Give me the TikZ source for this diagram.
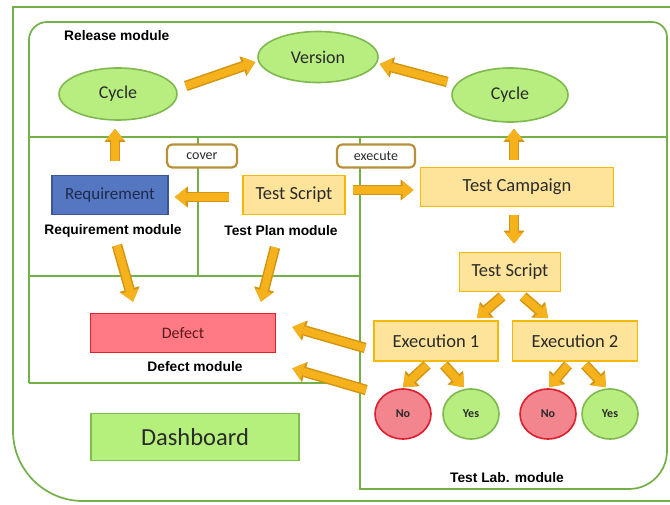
\documentclass[tikz,border=0pt]{standalone}
\usepackage{fontspec}
\setmainfont{Carlito}
\newfontfamily\labelfont{Liberation Sans}
\usetikzlibrary{shapes.geometric,arrows.meta,calc}

\definecolor{frameGreen}{HTML}{74B04A}
\definecolor{ellFill}{HTML}{B8EE80}
\definecolor{ellEdge}{HTML}{80B850}
\definecolor{noFill}{HTML}{F2858D}
\definecolor{noEdge}{HTML}{DC1E2E}
\definecolor{defFill}{HTML}{FF7A84}
\definecolor{defEdge}{HTML}{E0202A}
\definecolor{reqFill}{HTML}{5577C2}
\definecolor{reqEdge}{HTML}{3A5694}
\definecolor{reqText}{HTML}{1E2B4A}
\definecolor{boxFill}{HTML}{FEE49A}
\definecolor{boxEdge}{HTML}{F4B80A}
\definecolor{tagEdge}{HTML}{B89038}
\definecolor{arrFill}{HTML}{F6B21C}
\definecolor{arrEdge}{HTML}{D39410}
\definecolor{dashFill}{HTML}{B6F07C}
\definecolor{dashEdge}{HTML}{7EBE4E}
\definecolor{ink}{HTML}{2A2A2A}
\definecolor{defText}{HTML}{5A1A1E}

\begin{document}
\begin{tikzpicture}[x=1pt,y=-1pt,
  frame/.style={draw=frameGreen, line width=1.7pt},
  ell/.style={ellipse, draw=ellEdge, line width=1.6pt, fill=ellFill, inner sep=0pt,
    text=ink, font=\fontsize{18}{21}\selectfont},
  answer/.style={ellipse, line width=1.6pt, inner sep=0pt, minimum width=56pt,
    minimum height=50pt, text=ink, font=\bfseries\fontsize{12}{14}\selectfont},
  obox/.style={rectangle, draw=boxEdge, line width=1.8pt, fill=boxFill, inner sep=0pt,
    minimum height=39pt, text=ink, font=\fontsize{18.5}{21}\selectfont},
  tag/.style={rectangle, rounded corners=5pt, draw=tagEdge, line width=2.2pt, fill=white,
    inner sep=0pt, minimum height=23pt, text=ink, font=\fontsize{14}{16}\selectfont},
  modlabel/.style={inner sep=0pt, text=black, font=\labelfont\bfseries\fontsize{13.8}{16}\selectfont},
  fat/.style={
    preaction={draw=arrEdge, line width=10.5pt, -{Triangle[width=21pt,length=13pt,line width=0pt]}},
    draw=arrFill, line width=7.5pt, -{Triangle[width=18pt,length=11pt,line width=0pt]}}
]
\useasboundingbox (0,0) rectangle (670,505);

% outer frame with the large rounded corner at the bottom left
\draw[frame] (672,7) -- (13,7) -- (13,300) [rounded corners=70pt] -- (13,501) -- (672,501);

% module partitions
\draw[frame] (29,383) [rounded corners=18pt] -- (29,22) -- (400,22)
  [rounded corners=15pt] -- (667,22) -- (667,300)
  [rounded corners=38pt] -- (667,489) -- (500,489)
  [sharp corners] -- (360,489) -- (360,137);
\draw[frame] (29,137) -- (667,137);
\draw[frame] (29,276) -- (360,276);
\draw[frame] (29,383) -- (360,383);
\draw[frame] (198,137) -- (198,276);

% release module
\node[modlabel, anchor=west] (lblRel) at (64,36) {Release module};
\node[ell, minimum width=120pt, minimum height=51pt] (ver) at (318,57) {Version};
\node[ell, minimum width=118pt, minimum height=52pt] (cycL) at (118,94) {Cycle};
\node[ell, minimum width=116pt, minimum height=54pt] (cycR) at (510,95) {Cycle};

% requirement and test plan modules
\node[rectangle, draw=reqEdge, line width=1.6pt, fill=reqFill, inner sep=0pt,
  minimum width=116pt, minimum height=39pt, text=reqText,
  font=\fontsize{17}{20}\selectfont] (req) at (110,195) {Requirement};
\node[modlabel] (lblReq) at (113,231) {Requirement module};
\node[obox, minimum width=102pt] (tsP) at (294,195) {Test Script};
\node[modlabel] (lblPlan) at (281,231) {Test Plan module};
\node[tag, minimum width=70pt] (cover) at (202,156) {cover};
\node[tag, minimum width=78pt] (exec) at (376,156) {execute};

% test lab module
\node[obox, minimum width=193pt] (camp) at (517,187) {Test Campaign};
\node[obox, minimum width=101pt] (tsL) at (510,272) {Test Script};
\node[obox, minimum width=124pt, minimum height=40pt] (exe1) at (436,341) {Execution 1};
\node[obox, minimum width=125pt, minimum height=40pt] (exe2) at (575,341) {Execution 2};
\node[answer, draw=noEdge, fill=noFill] (no1) at (403,414) {No};
\node[answer, draw=ellEdge, fill=ellFill] (yes1) at (471,414) {Yes};
\node[answer, draw=noEdge, fill=noFill] (no2) at (548,414) {No};
\node[answer, draw=ellEdge, fill=ellFill] (yes2) at (610,414) {Yes};
\node[modlabel] (lblLab) at (507,478) {Test Lab. module};

% defect module and dashboard
\node[rectangle, draw=defEdge, line width=1.8pt, fill=defFill, inner sep=0pt,
  minimum width=185pt, minimum height=39pt, text=defText,
  font=\fontsize{16}{19}\selectfont] (defect) at (183,333) {Defect};
\node[modlabel] (lblDef) at (195,367) {Defect module};
\node[rectangle, draw=dashEdge, line width=1.6pt, fill=dashFill, inner sep=0pt,
  minimum width=208pt, minimum height=47pt, text=ink,
  font=\fontsize{24.5}{28}\selectfont] (dash) at (195,437) {Dashboard};

% flows
\draw[fat] ($(cycL.east)+(8,-8)$) -- ($(ver.west)+(-2,5)$);
\draw[fat] ($(cycR.west)+(-4,-13)$) -- ($(ver.east)+(1,7)$);
\draw[fat] ($(req.north)+(5,-14)$) -- ($(cycL.south)+(-3,8)$);
\draw[fat] ($(camp.north)+(-3,-7)$) -- ($(cycR.south)+(4,6)$);
\draw[fat] ($(tsP.west)+(-13,2)$) -- ($(req.east)+(6,2)$);
\draw[fat] ($(tsP.east)+(7,-5)$) -- ($(camp.west)+(-6,3)$);
\draw[fat] ($(camp.south)+(-3,8)$) -- ($(tsL.north)+(4,-8)$);
\draw[fat] ($(req.south)+(7,30)$) -- ($(defect.north)+(-50,-11)$);
\draw[fat] ($(tsP.south)+(-19,32)$) -- ($(defect.north)+(78,-11)$);
\draw[fat] ($(exe1.west)+(-8,7)$) -- ($(defect.east)+(16,-6)$);
\draw[fat] ($(no1.west)+(-8,-24)$) -- ($(defect.south east)+(16,15)$);
\draw[fat] ($(tsL.south)+(-8,4)$) -- ($(exe1.north)+(41,-2)$);
\draw[fat] ($(tsL.south)+(13,4)$) -- ($(exe2.north)+(-27,-2)$);
\draw[fat] ($(exe1.south)+(-9,3)$) -- ($(no1.north)+(0,-1)$);
\draw[fat] ($(exe1.south)+(8,3)$) -- ($(yes1.north)+(-7,-1)$);
\draw[fat] ($(exe2.south)+(-7,3)$) -- ($(no2.north)+(1,-1)$);
\draw[fat] ($(exe2.south)+(10,3)$) -- ($(yes2.north)+(-4,-1)$);
\end{tikzpicture}
\end{document}
